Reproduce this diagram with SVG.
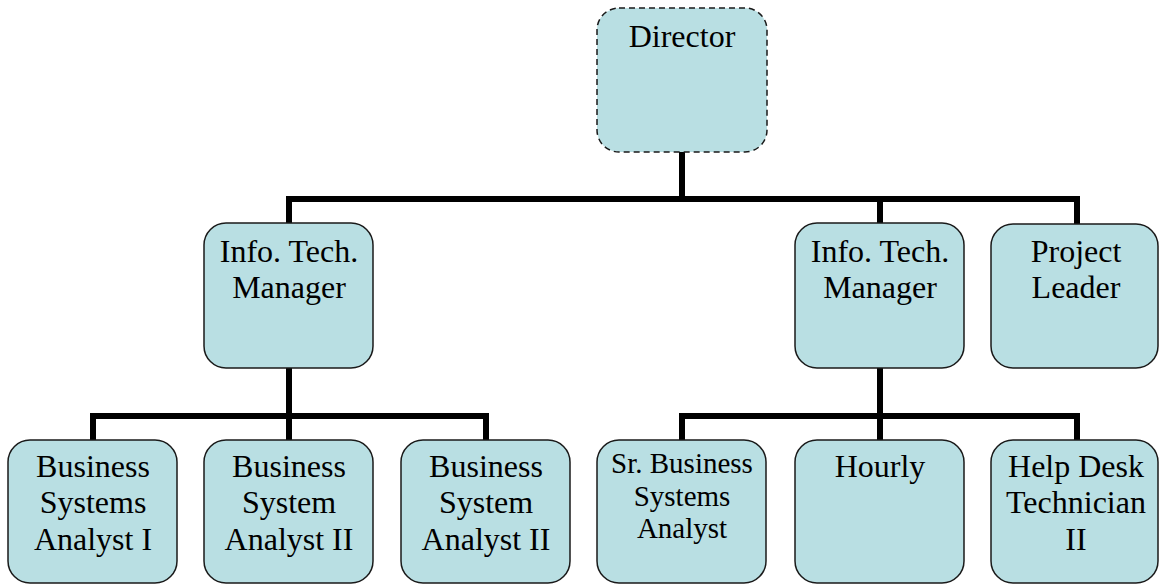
<svg xmlns="http://www.w3.org/2000/svg" width="1159" height="585" viewBox="0 0 1159 585">
<style>
.box{fill:#B9DFE3;stroke:#1a1a1a;stroke-width:1.5}
.dash{stroke-dasharray:6 4}
.t{font-family:"Liberation Serif","Times New Roman",serif;font-size:32px;fill:#000;text-anchor:middle}
.s{font-size:29px}
.c{fill:none;stroke:#000;stroke-width:6;stroke-linecap:butt;stroke-linejoin:miter}
</style>
<rect width="1159" height="585" fill="#fff"/>
<g id="connectors">
<path class="c" d="M682 152V199M289 223V199H1077V224M880 199V223"/>
<path class="c" d="M289 368V416M93 441V416H486V441M289 416V441"/>
<path class="c" d="M880 368V416M682 441V416H1077V441M880 416V441"/>
</g>
<g id="director"><rect class="box dash" x="597" y="8" width="170" height="144" rx="22"/><text class="t" x="682" y="47">Director</text></g>
<g id="itm-left"><rect class="box" x="204" y="223" width="169" height="145" rx="22"/><text class="t" x="289" y="262">Info. Tech.</text><text class="t" x="289" y="298">Manager</text></g>
<g id="itm-right"><rect class="box" x="795" y="223" width="169" height="145" rx="22"/><text class="t" x="880" y="262">Info. Tech.</text><text class="t" x="880" y="298">Manager</text></g>
<g id="project-leader"><rect class="box" x="991" y="224" width="167" height="144" rx="22"/><text class="t" x="1076" y="262">Project</text><text class="t" x="1076" y="298">Leader</text></g>
<g id="bsa1"><rect class="box" x="8" y="440" width="169" height="143" rx="22"/><text class="t" x="93" y="477">Business</text><text class="t" x="93" y="513">Systems</text><text class="t" x="93" y="550">Analyst I</text></g>
<g id="bsa2a"><rect class="box" x="204" y="440" width="169" height="143" rx="22"/><text class="t" x="289" y="477">Business</text><text class="t" x="289" y="513">System</text><text class="t" x="289" y="550">Analyst II</text></g>
<g id="bsa2b"><rect class="box" x="401" y="440" width="169" height="143" rx="22"/><text class="t" x="486" y="477">Business</text><text class="t" x="486" y="513">System</text><text class="t" x="486" y="550">Analyst II</text></g>
<g id="sr-bsa"><rect class="box" x="597" y="440" width="169" height="143" rx="22"/><text class="t s" x="682" y="473">Sr. Business</text><text class="t s" x="682" y="506">Systems</text><text class="t s" x="682" y="538">Analyst</text></g>
<g id="hourly"><rect class="box" x="795" y="440" width="169" height="143" rx="22"/><text class="t" x="880" y="477">Hourly</text></g>
<g id="helpdesk"><rect class="box" x="991" y="440" width="167" height="143" rx="22"/><text class="t" x="1076" y="477">Help Desk</text><text class="t" x="1076" y="513">Technician</text><text class="t" x="1076" y="550">II</text></g>
</svg>
